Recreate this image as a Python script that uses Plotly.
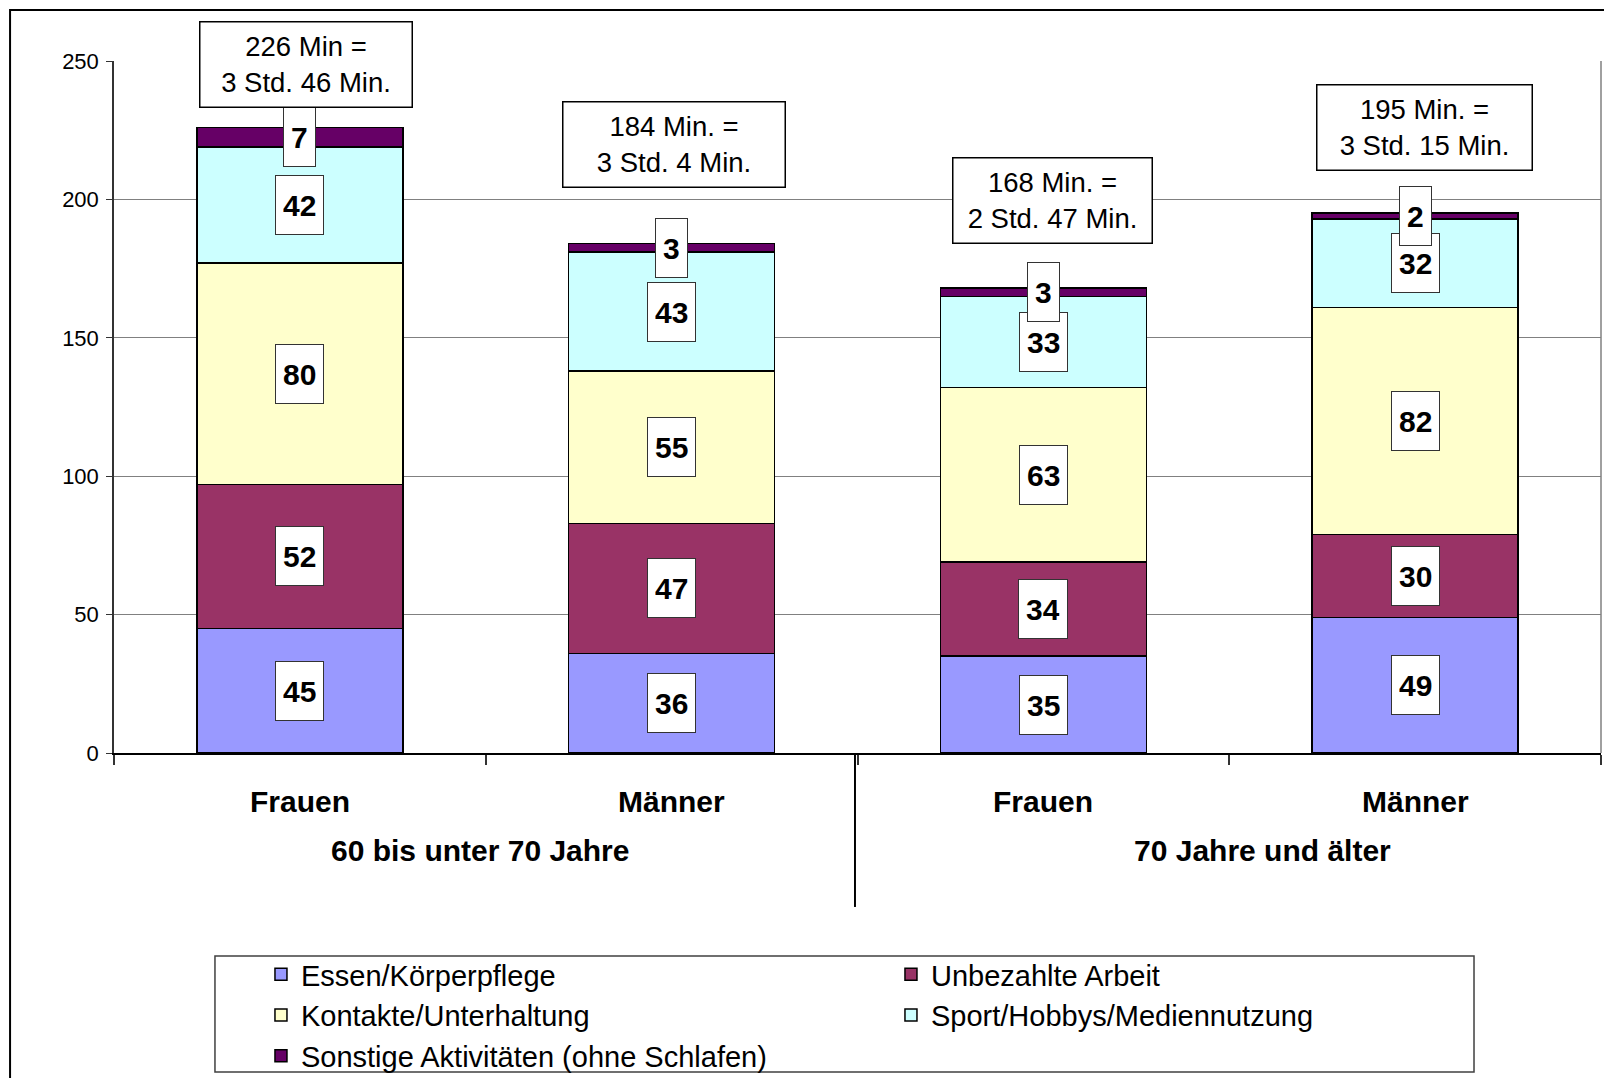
import plotly.graph_objects as go

# ---- data ----
groups = ["60 bis unter 70 Jahre", "60 bis unter 70 Jahre", "70 Jahre und älter", "70 Jahre und älter"]
sexes = ["Frauen", "Männer", "Frauen", "Männer"]
group_names = ["60 bis unter 70 Jahre", "70 Jahre und älter"]
series_names = ["Essen/Körperpflege", "Unbezahlte Arbeit", "Kontakte/Unterhaltung",
                "Sport/Hobbys/Mediennutzung", "Sonstige Aktivitäten (ohne Schlafen)"]
essen = [45, 36, 35, 49]
arbeit = [52, 47, 34, 30]
kontakte = [80, 55, 63, 82]
sport = [42, 43, 33, 32]
sonstige = [7, 3, 3, 2]
total_labels = ["226 Min =<br>3 Std. 46 Min.", "184 Min. =<br>3 Std. 4 Min.",
                "168 Min. =<br>2 Std. 47 Min.", "195 Min. =<br>3 Std. 15 Min."]
y_ticks = [0, 50, 100, 150, 200, 250]

# ---- styles ----
colors = ["#9999FF", "#993366", "#FFFFCC", "#CCFFFF", "#660066"]
total_box_width = [199, 209, 186, 202]
total_box_yshift = [19, 56, 44, 42]
total_box_xshift = [6, 2, 9, 9]
group_label_xshift = [-6, 33]
FONT = "Liberation Sans, Arial, sans-serif"

series = [essen, arbeit, kontakte, sport, sonstige]
x_mc = [groups, sexes]

fig = go.Figure()
for name, vals, col in zip(series_names, series, colors):
    fig.add_trace(go.Bar(
        x=x_mc, y=vals, name=name,
        marker=dict(color=col, line=dict(color="black", width=1.5)),
        hoverinfo="skip",
    ))

annotations = []
# segment labels
for i in range(len(sexes)):
    base = 0
    for vals in series:
        v = vals[i]
        annotations.append(dict(
            x=i, y=base + v / 2, xref="x", yref="y",
            text="<b>%d</b>" % v, showarrow=False,
            font=dict(family=FONT, size=30, color="black"),
            bgcolor="white", bordercolor="#333333", borderwidth=1,
            borderpad=7, height=44, valign="middle",
        ))
        base += v
# totals
for i in range(len(sexes)):
    tot = sum(s[i] for s in series)
    annotations.append(dict(
        x=i, y=tot, xref="x", yref="y", yanchor="bottom",
        xshift=total_box_xshift[i], yshift=total_box_yshift[i],
        text=total_labels[i], showarrow=False,
        font=dict(family=FONT, size=27.5, color="black"),
        bgcolor="white", bordercolor="black", borderwidth=1.5,
        borderpad=6, width=total_box_width[i], height=72, align="center", valign="middle",
    ))
# category labels
for i, s in enumerate(sexes):
    annotations.append(dict(
        x=i, y=-0.0694, xref="x", yref="paper", yanchor="middle",
        text="<b>%s</b>" % s, showarrow=False,
        font=dict(family=FONT, size=30, color="black"),
    ))
for j, g in enumerate(group_names):
    annotations.append(dict(
        x=2 * j + 0.5, y=-0.1416, xref="x", yref="paper", yanchor="middle",
        xshift=group_label_xshift[j],
        text="<b>%s</b>" % g, showarrow=False,
        font=dict(family=FONT, size=30, color="black"),
    ))

shapes = [
    # outer chart frame
    dict(type="rect", xref="paper", yref="paper", x0=-0.0699, x1=1.2, y0=-0.6, y1=1.0737,
         line=dict(color="black", width=2), layer="below"),
    # right border of plot area
    dict(type="line", xref="paper", yref="paper", x0=1, x1=1, y0=0, y1=1,
         line=dict(color="#808080", width=1.5)),
    # group divider
    dict(type="line", xref="paper", yref="paper", x0=0.4983, x1=0.4983, y0=0, y1=-0.2225,
         line=dict(color="black", width=2)),
    # legend frame
    dict(type="rect", xref="paper", yref="paper", x0=0.0679, x1=0.9146, y0=-0.461, y1=-0.2934,
         line=dict(color="#404040", width=1.5), fillcolor="white", layer="below"),
]

fig.update_layout(
    barmode="stack", bargap=0.446,
    width=1612, height=1078,
    margin=dict(l=106, r=19, t=53, b=333, autoexpand=False),
    paper_bgcolor="white", plot_bgcolor="white",
    font=dict(family=FONT, color="black"),
    showlegend=True,
    legend=dict(
        orientation="h", x=0.0679, xanchor="left", y=-0.2832, yanchor="top",
        traceorder="normal", entrywidth=539, entrywidthmode="pixels",
        font=dict(family=FONT, size=29, color="black"),
        borderwidth=0, bgcolor="rgba(0,0,0,0)",
        indentation=46,
    ),
    annotations=annotations,
    shapes=shapes,
)
fig.update_xaxes(
    type="multicategory", showdividers=False, showticklabels=False,
    ticks="outside", ticklen=10, tickcolor="#333333", tickwidth=1.5,
    showline=True, linecolor="black", linewidth=1.5,
    showgrid=False, automargin=False,
)
fig.update_yaxes(
    range=[0, 250], tickvals=y_ticks, ticks="outside", ticklen=6,
    tickcolor="#333333", showline=True, linecolor="#333333", linewidth=1.5,
    showgrid=True, gridcolor="#808080", gridwidth=1.2, zeroline=False,
    tickfont=dict(family=FONT, size=22, color="black"),
    ticklabelstandoff=3, automargin=False,
)
fig.write_html("out.html")
